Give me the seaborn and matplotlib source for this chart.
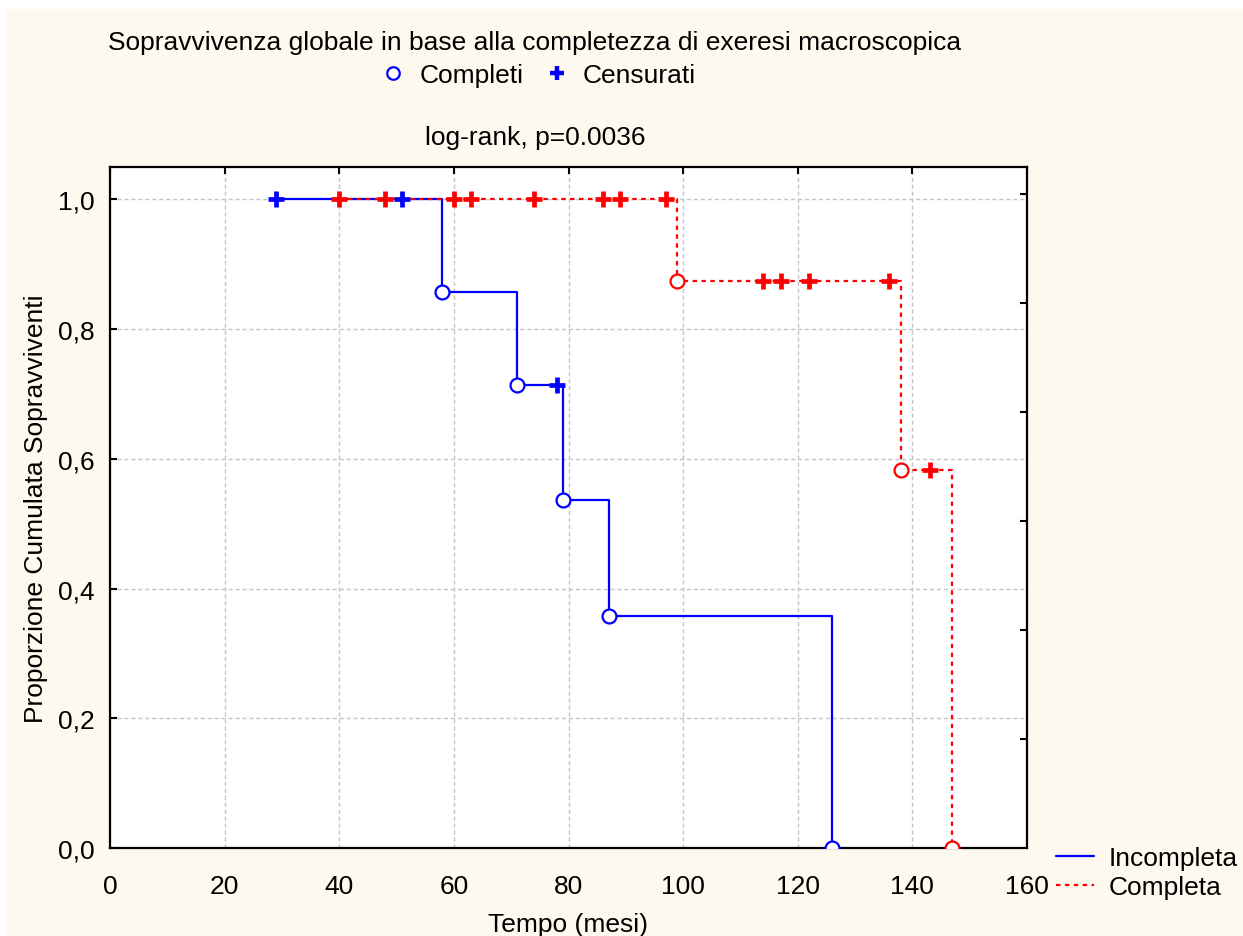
import pandas as pd
import matplotlib.pyplot as plt
import seaborn as sns
from matplotlib.lines import Line2D
from matplotlib.patches import Rectangle

# Data
inc_step_t = [29, 58, 71, 79, 87, 126]
inc_step_s = [1.0, 0.857, 0.714, 0.536, 0.357, 0.0]
inc_event_t = [58, 71, 79, 87, 126]
inc_event_s = [0.857, 0.714, 0.536, 0.357, 0.0]
inc_cens_t = [29, 51, 78]
inc_cens_s = [1.0, 1.0, 0.714]

com_step_t = [40, 99, 138, 147]
com_step_s = [1.0, 0.875, 0.583, 0.0]
com_event_t = [99, 138, 147]
com_event_s = [0.875, 0.583, 0.0]
com_cens_t = [40, 48, 60, 63, 74, 86, 89, 97, 114, 117, 122, 136, 143]
com_cens_s = [1.0] * 8 + [0.875] * 4 + [0.583]

x_ticks = [0, 20, 40, 60, 80, 100, 120, 140, 160]
y_ticks = [0.0, 0.2, 0.4, 0.6, 0.8, 1.0]
y_labels = ["0,0", "0,2", "0,4", "0,6", "0,8", "1,0"]

BLUE = "#0000FF"
RED = "#FF0000"
CREAM = "#FEF9EE"
FS = 19

sns.set_style("white")
plt.rcParams["font.family"] = ["Liberation Sans", "DejaVu Sans"]
plt.rcParams["font.size"] = FS
for key in ["text.color", "axes.labelcolor", "xtick.color", "ytick.color"]:
    plt.rcParams[key] = "black"

fig = plt.figure(figsize=(12.43, 9.37), dpi=100)
fig.patch.set_facecolor("white")
fig.patches.append(Rectangle((6 / 1243, 0), 1, 1 - 10 / 937, transform=fig.transFigure,
                             facecolor=CREAM, edgecolor="none", zorder=-10))

ax = fig.add_axes([110 / 1243, 1 - 849 / 937, (1027 - 110) / 1243, (849 - 168) / 937])
ax.set_facecolor("white")

inc = pd.DataFrame({"t": inc_step_t, "s": inc_step_s})
com = pd.DataFrame({"t": com_step_t, "s": com_step_s})
sns.lineplot(data=inc, x="t", y="s", ax=ax, color=BLUE, lw=1.6, drawstyle="steps-post",
             estimator=None, sort=False, zorder=3)
sns.lineplot(data=com, x="t", y="s", ax=ax, color=RED, lw=1.6, drawstyle="steps-post",
             estimator=None, sort=False, zorder=4, linestyle=(0, (2, 2)))

# events (open circles)
sns.scatterplot(x=inc_event_t, y=inc_event_s, ax=ax, marker="o", s=100, facecolor="white",
                edgecolor=BLUE, linewidth=1.6, zorder=6)
sns.scatterplot(x=com_event_t, y=com_event_s, ax=ax, marker="o", s=100, facecolor="white",
                edgecolor=RED, linewidth=1.6, zorder=6)
# censored
sns.scatterplot(x=inc_cens_t, y=inc_cens_s, ax=ax, marker="+", s=130, color=BLUE,
                linewidth=3.4, zorder=7)
sns.scatterplot(x=com_cens_t, y=com_cens_s, ax=ax, marker="+", s=130, color=RED,
                linewidth=3.4, zorder=7)

ax.set_xlim(0, 160)
ax.set_ylim(0, 1.05)
ax.set_xticks(x_ticks)
ax.set_yticks(y_ticks)
ax.set_yticklabels(y_labels)
ax.grid(True, color="#C4C4C4", linestyle=(0, (3, 2)), lw=1)
ax.tick_params(axis="y", direction="in", length=5, width=1.5, color="black",
               right=False, labelsize=FS, pad=11)
ax.tick_params(axis="x", direction="in", length=5, width=1.5, color="black",
               top=True, labelsize=FS, pad=19)
for sp in ax.spines.values():
    sp.set_visible(True)
    sp.set_color("black")
    sp.set_linewidth(1.6)
ax.set_xlabel("Tempo (mesi)", fontsize=FS, labelpad=10)
ax.set_ylabel("Proporzione Cumulata Sopravviventi", fontsize=FS, labelpad=7)

# right side ticks on a separate scale
ax2 = ax.twinx()
ax2.set_ylim(ax.get_ylim())
ax2.set_yticks([0.168, 0.336, 0.504, 0.672, 0.84, 1.008])
ax2.set_yticklabels([])
ax2.tick_params(direction="in", length=5, width=1.5, color="black")
for sp in ax2.spines.values():
    sp.set_visible(False)

fig.text(535 / 1243, 1 - 43 / 937, "Sopravvivenza globale in base alla completezza di exeresi macroscopica",
         ha="center", va="center", fontsize=FS)
fig.text(535 / 1243, 1 - 138 / 937, "log-rank, p=0.0036", ha="center", va="center", fontsize=FS)

top_handles = [
    Line2D([], [], ls="none", marker="o", ms=9, mfc="white", mec=BLUE, mew=1.6),
    Line2D([], [], ls="none", marker="+", ms=10, color=BLUE, mew=3.2),
]
fig.legend(top_handles, ["Completi", "Censurati"], loc="center", ncol=2,
           bbox_to_anchor=(538 / 1243, 1 - 76 / 937), frameon=False, fontsize=FS,
           handlelength=1.0, handletextpad=0.5, columnspacing=0.75)

bot_handles = [
    Line2D([], [], color=BLUE, lw=1.6),
    Line2D([], [], color=RED, lw=1.6, ls=(0, (2, 2))),
]
fig.legend(bot_handles, ["Incompleta", "Completa"], loc="upper left",
           bbox_to_anchor=(1056 / 1243, 1 - 847 / 937), frameon=False, fontsize=FS,
           handlelength=1.45, handletextpad=0.55, labelspacing=0.2, borderaxespad=0,
           borderpad=0)

fig.savefig("out.png", dpi=100, facecolor=fig.get_facecolor())
